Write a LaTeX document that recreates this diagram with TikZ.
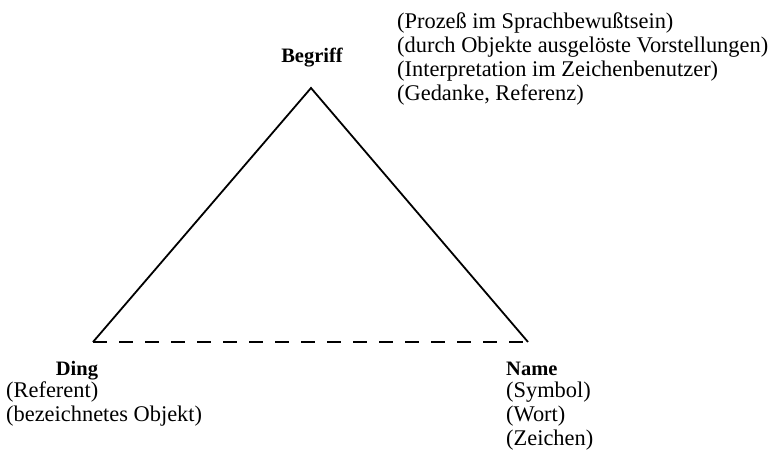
\documentclass[tikz,border=0pt]{standalone}
\usepackage{fontspec}
\setmainfont{Liberation Serif}
\usepackage{tikz}

\tikzset{
  side/.style={line width=1.8bp, line join=miter},
  head/.style={font=\fontsize{20.5bp}{24bp}\selectfont\bfseries, inner sep=0pt, anchor=base},
  gloss/.style={font=\fontsize{22.4bp}{24bp}\selectfont, align=left, inner sep=0pt, anchor=north west},
}

\begin{document}
\begin{tikzpicture}[x=1bp,y=-1bp]
  \useasboundingbox (0,0) rectangle (783,451);
  % corners of the triangle
  \coordinate (top) at (311,88);
  \coordinate (left) at (93,342);
  \coordinate (right) at (528,342);
  \draw[side] (left) -- (top) -- (right);
  \draw[side, dash pattern=on 14bp off 12bp] (left) -- (right);
  % labels
  \node[head] (begriff) at (312,63) {Begriff};
  \node[gloss] (begriffinfo) at (397,13) {(Prozeß im Sprachbewußtsein)\\(durch Objekte ausgelöste Vorstellungen)\\(Interpretation im Zeichenbenutzer)\\(Gedanke, Referenz)};
  \node[head] (ding) at (77,376) {Ding};
  \node[gloss] (dinginfo) at (6,382) {(Referent)\\(bezeichnetes Objekt)};
  \node[head, anchor=base west] (name) at (506,376) {Name};
  \node[gloss] (nameinfo) at (506,382) {(Symbol)\\(Wort)\\(Zeichen)};
\end{tikzpicture}
\end{document}
